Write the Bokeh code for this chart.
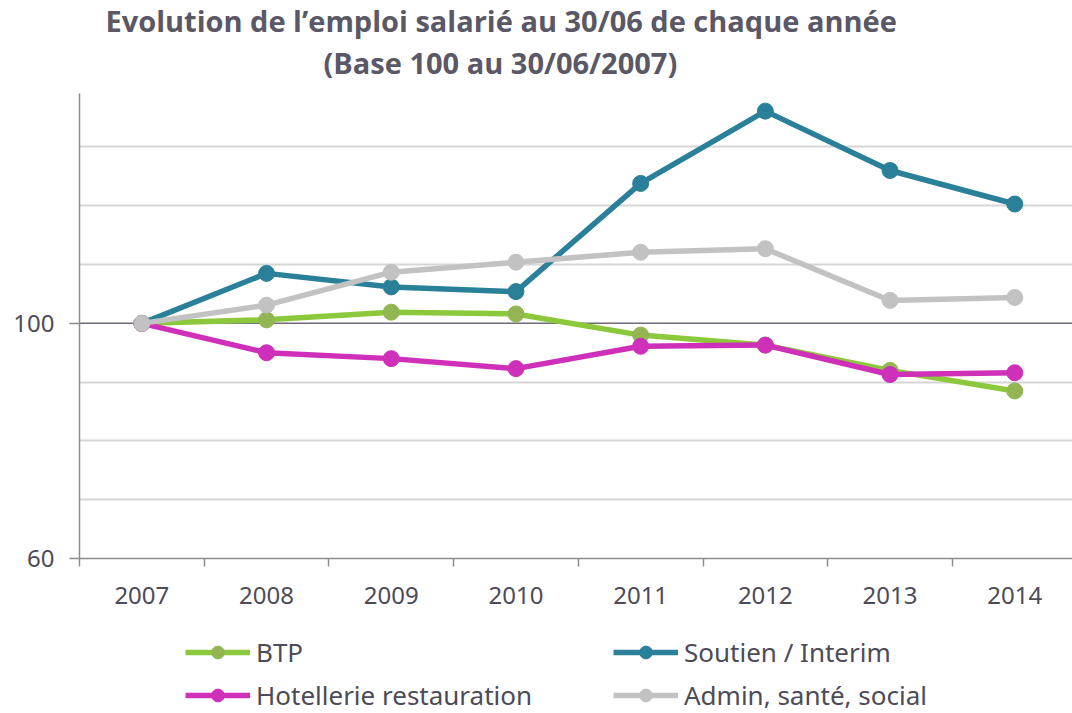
from bokeh.plotting import figure
from bokeh.layouts import column
from bokeh.models import Range1d, FixedTicker, Span, Title, Legend, LegendItem
from bokeh.embed import file_html
from bokeh.resources import INLINE

years = [2007, 2008, 2009, 2010, 2011, 2012, 2013, 2014]
btp = [100, 100.6, 101.9, 101.6, 98.0, 96.3, 92.0, 88.5]
soutien = [100, 108.5, 106.2, 105.4, 123.8, 136.1, 126.0, 120.3]
hotel = [100, 95.0, 94.0, 92.3, 96.1, 96.3, 91.3, 91.6]
admin = [100, 103.1, 108.7, 110.4, 112.1, 112.7, 103.9, 104.4]
y_labels = [60, 100]
grid_levels = [70, 80, 90, 110, 120, 130]
series_names = ["BTP", "Soutien / Interim", "Hotellerie restauration", "Admin, santé, social"]
title_line1 = "Evolution de l\u2019emploi salarié au 30/06 de chaque année"
title_line2 = "(Base 100 au 30/06/2007)"

TXT = "#4d4b57"

p = figure(frame_width=993, frame_height=465,
           x_range=Range1d(2006.5, 2006.5 + 993 / 124.7),
           y_range=Range1d(60, 139.1),
           output_backend="svg", toolbar_location=None,
           min_border_left=79, min_border_right=0, min_border_top=93,
           min_border_bottom=70,
           background_fill_color="white", border_fill_color="white",
           outline_line_color=None)

p.xgrid.visible = False
p.ygrid.ticker = FixedTicker(ticks=grid_levels)
p.ygrid.grid_line_color = "#d6d6d6"
p.ygrid.grid_line_width = 2

p.add_layout(Span(location=100, dimension="width", line_color="#6f6b78",
                  line_width=1.5, level="underlay"))

xa = p.xaxis[0]
xa.ticker = FixedTicker(ticks=years, minor_ticks=[y - 0.5 for y in years])
xa.major_tick_out = 0
xa.major_tick_in = 0
xa.minor_tick_out = 8
xa.minor_tick_in = 0
xa.minor_tick_line_color = "#8c8c8c"
xa.minor_tick_line_width = 1.5
xa.axis_line_color = "#8c8c8c"
xa.axis_line_width = 1.5
xa.major_label_text_font = "Noto Sans"
xa.major_label_text_font_size = "24px"
xa.major_label_text_color = TXT
xa.major_label_standoff = 20

ya = p.yaxis[0]
ya.ticker = FixedTicker(ticks=y_labels)
ya.major_tick_out = 10
ya.major_tick_in = 0
ya.major_tick_line_color = "#8c8c8c"
ya.major_tick_line_width = 1.5
ya.minor_tick_out = 0
ya.minor_tick_in = 0
ya.axis_line_color = "#8c8c8c"
ya.axis_line_width = 1.5
ya.major_label_text_font = "Noto Sans"
ya.major_label_text_font_size = "24px"
ya.major_label_text_color = TXT
ya.major_label_standoff = 15

styles = [
    (btp, "#8cc83c", "#93b552"),
    (soutien, "#2a8099", "#2a8099"),
    (hotel, "#cf30ba", "#cf30ba"),
    (admin, "#c2c2c2", "#c2c2c2"),
]

# legend strip below the chart
lg = figure(width=1072, height=85, x_range=Range1d(0, 1), y_range=Range1d(0, 1),
            output_backend="svg", toolbar_location=None, min_border=0,
            x_axis_location=None, y_axis_location=None, outline_line_color=None,
            background_fill_color="white", border_fill_color="white")
lg.grid.visible = False

items = []
for name, (vals, lc, mc) in zip(series_names, styles):
    p.line(years, vals, line_color=lc, line_width=5.5)
    p.scatter(years, vals, size=16, fill_color=mc, line_color=mc)
    dl = lg.line(years, vals, line_color=lc, line_width=5.5, visible=False)
    ds = lg.scatter(years, vals, size=16, fill_color=mc, line_color=mc, visible=False)
    items.append(LegendItem(label=name, renderers=[dl, ds]))

common = dict(orientation="horizontal", glyph_width=65, glyph_height=32,
              label_standoff=6, spacing=15, label_width=342, margin=0, padding=0,
              border_line_color=None, background_fill_alpha=0,
              label_text_font="Noto Sans", label_text_font_size="26px",
              label_text_color=TXT)
legend1 = Legend(items=[items[0], items[1]], location=(106, 43), **common)
legend2 = Legend(items=[items[2], items[3]], location=(106, 0), **common)
lg.add_layout(legend1, "center")
lg.add_layout(legend2, "center")

t2 = Title(text=title_line2, align="left", offset=244,
           text_font="Open Sans", text_font_style="bold", text_font_size="29px",
           text_color="#5a5766", standoff=23)
t1 = Title(text=title_line1, align="left", offset=26,
           text_font="Open Sans", text_font_style="bold", text_font_size="29px",
           text_color="#5a5766", standoff=-20)
p.add_layout(t2, "above")
p.add_layout(t1, "above")

layout = column(p, lg, spacing=0)
open("out.html", "w").write(file_html(layout, INLINE))
